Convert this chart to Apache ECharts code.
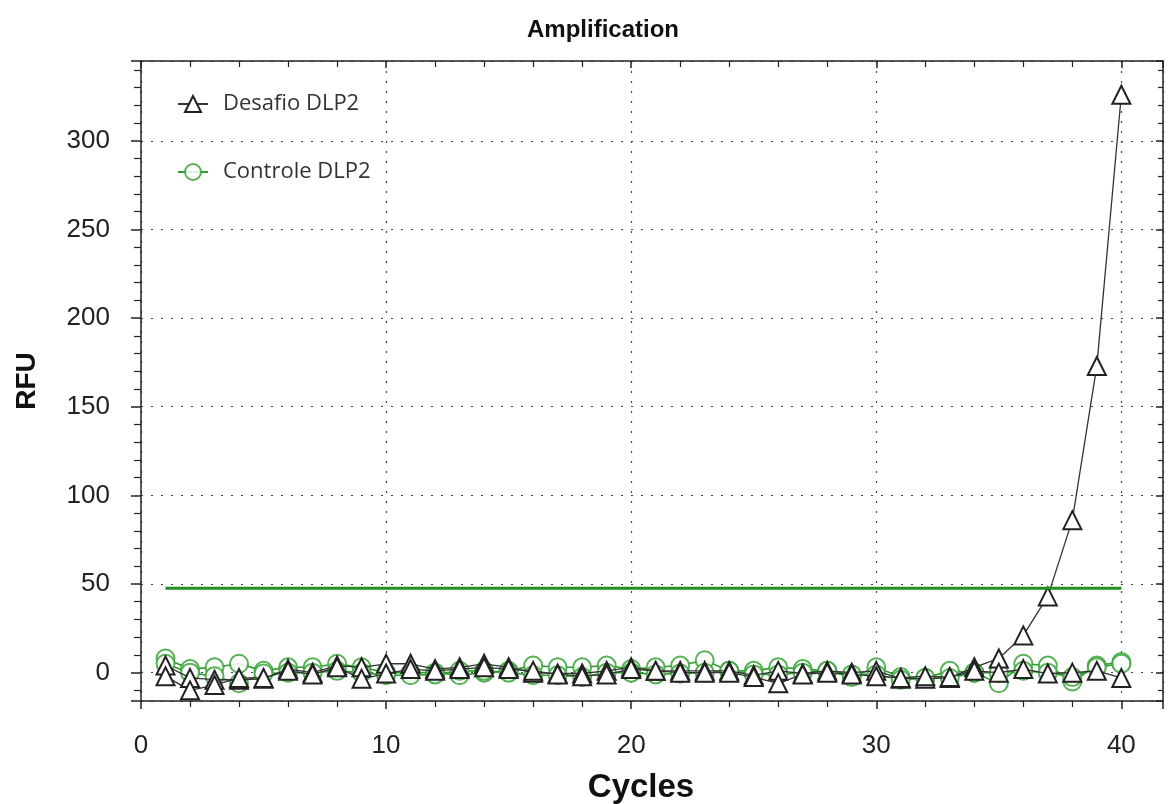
<!DOCTYPE html>
<html>
<head>
<meta charset="utf-8">
<script src="https://cdn.jsdelivr.net/npm/echarts@6/dist/echarts.min.js"></script>
<style>
  html, body { margin: 0; padding: 0; background: #fff; }
  #chart { width: 1170px; height: 804px; }
</style>
</head>
<body>
<div id="chart"></div>
<script>
// ciclos 1..40
var cycles = [];
for (var c = 1; c <= 40; c++) cycles.push(c);

// Desafio DLP2 (2 poços)
var desafioA = [4, -3, -4, -4, -3.5, 2, 0, 4, 3, 5, 5, 2, 3, 5, 3, 0, -0.5, -0.5, 1, 3,
                1, 1, 1, 1, -1.5, 1, -0.5, 1, 0, 1, -3.4, -3.4, -3, 3, 8, 21, 43, 86, 173, 326];
var desafioB = [-2, -10, -7, -3, -3, 1, -1, 3, -3.5, -0.5, 2, 1, 2, 3, 2, 1, -1, -2, -1, 2,
                1, 0, 0, 0, -2.5, -6, -1, 0, -1, -2, -3, -2, -2.5, 1, 0, 2, -0.5, 0, 1, -3];

// Controle DLP2 (2 poços)
var controleA = [8, 2, 3, 5, 1, 3, 3, 5, 3, 0, 0, 0, -1.5, 0, 1, 4, 3, 3, 4, 2,
                 3, 4, 7, 1, 1, 3, 2, 1, -2.5, 3, -2.5, -3, 1, 0, -6, 5, 4, -5, 4, 6];
var controleB = [5, 0, -2, -6, -0.5, 0, 0, 1, 0, -1.5, -1.5, -1, 1, 1, 0, -1.5, -1.5, -2.5, 0, 0,
                 -1, -0.5, 0, 1, -1, -1, 0, 1, -1, -1, -4, -3, -3, 0, 0, 1, 0, -2.5, 3, 5];

// limiar
var threshold = 47.6;
var thresholdRange = [1, 40];

var xTicks = [0, 10, 20, 30, 40];
var yTicks = [0, 50, 100, 150, 200, 250, 300];

function pairs(ys) {
    return cycles.map(function (x, i) { return [x, ys[i]]; });
}

var myChart = echarts.init(document.getElementById('chart'));

var dotted = { color: '#444', width: 1.2, type: [2, 8] };
var font = 'Liberation Sans';

function desafio(ys) {
    return {
        name: 'Desafio DLP2',
        type: 'line',
        data: pairs(ys),
        symbol: 'emptyTriangle',
        symbolSize: 18,
        z: 4,
        itemStyle: { color: '#222', borderWidth: 1.3 },
        lineStyle: { color: '#333', width: 1.3 }
    };
}
function controle(ys) {
    return {
        name: 'Controle DLP2',
        type: 'line',
        data: pairs(ys),
        symbol: 'emptyCircle',
        symbolSize: 18,
        z: 3,
        itemStyle: { color: '#3aa53a', borderWidth: 1.5, opacity: 0.85 },
        lineStyle: { color: '#2f9a2f', width: 1.6 }
    };
}

// eixo Y: sem interval fixo (min não é múltiplo de 50), splitNumber dá passo 50
var yCommon = { type: 'value', min: -16, max: 345, splitNumber: 7 };
var xCommon = { type: 'value', min: 0, max: 41.7, splitNumber: 4 };

myChart.setOption({
    backgroundColor: '#fff',
    animation: false,
    title: {
        text: 'Amplification',
        left: 598,
        top: 13,
        textAlign: 'center',
        textStyle: { fontFamily: font, fontWeight: 'bold', fontSize: 24, color: '#111' }
    },
    grid: { left: 141, right: 7, top: 61, bottom: 103, containLabel: false, outerBoundsMode: 'none' },
    legend: {
        data: ['Desafio DLP2', 'Controle DLP2'],
        orient: 'vertical',
        left: 172,
        top: 88,
        itemWidth: 30,
        itemHeight: 20,
        itemGap: 46,
        textStyle: { fontFamily: 'Open Sans', fontSize: 22, color: '#333', padding: [0, 0, 0, 10] }
    },
    xAxis: [Object.assign({}, xCommon, {
        name: 'Cycles',
        nameLocation: 'middle',
        nameGap: 70,
        nameTextStyle: { fontFamily: font, fontWeight: 'bold', fontSize: 33, color: '#111', padding: [0, 22, 0, 0] },
        axisLine: { onZero: false, lineStyle: { color: '#222', width: 1.5 } },
        axisTick: { show: true, length: 8, lineStyle: { color: '#222', width: 1.5 } },
        minorTick: { show: true, splitNumber: 5, length: 6, lineStyle: { color: '#222', width: 1.2 } },
        axisLabel: {
            margin: 32, fontSize: 26, color: '#222', fontFamily: font,
            showMaxLabel: false,
            formatter: function (v) { return xTicks.indexOf(v) >= 0 ? String(v) : ''; }
        },
        splitLine: { show: true, lineStyle: dotted }
    }), Object.assign({}, xCommon, {
        position: 'top',
        axisLine: { show: true, onZero: false, lineStyle: { color: '#222', width: 1.5 } },
        axisTick: { show: true, inside: true, length: 7, lineStyle: { color: '#222', width: 1.5 } },
        minorTick: { show: true, splitNumber: 5, length: 6, lineStyle: { color: '#222', width: 1.2 } },
        axisLabel: { show: false },
        splitLine: { show: false }
    })],
    yAxis: [Object.assign({}, yCommon, {
        name: 'RFU',
        nameLocation: 'middle',
        nameGap: 100,
        nameRotate: 90,
        nameTextStyle: { fontFamily: font, fontWeight: 'bold', fontSize: 28, color: '#111' },
        axisLine: { onZero: false, lineStyle: { color: '#222', width: 1.5 } },
        axisTick: { show: true, length: 10, lineStyle: { color: '#222', width: 1.5 } },
        minorTick: { show: true, splitNumber: 5, length: 7, lineStyle: { color: '#222', width: 1.2 } },
        axisLabel: {
            margin: 31, fontSize: 26, color: '#222', fontFamily: font,
            formatter: function (v) { return yTicks.indexOf(v) >= 0 ? String(v) : ''; }
        },
        splitLine: { show: true, lineStyle: dotted }
    }), Object.assign({}, yCommon, {
        position: 'right',
        axisLine: { show: true, onZero: false, lineStyle: { color: '#222', width: 1.5 } },
        axisTick: { show: true, inside: true, length: 7, lineStyle: { color: '#222', width: 1.5 } },
        minorTick: { show: true, splitNumber: 5, length: 5, lineStyle: { color: '#222', width: 1.2 } },
        axisLabel: { show: false },
        splitLine: { show: false }
    })],
    series: [
        controle(controleA),
        controle(controleB),
        desafio(desafioA),
        desafio(desafioB),
        {
            name: 'threshold',
            type: 'line',
            data: [[thresholdRange[0], threshold], [thresholdRange[1], threshold]],
            symbol: 'none',
            silent: true,
            z: 5,
            lineStyle: { color: '#1f8f1f', width: 3 }
        }
    ]
});
</script>
</body>
</html>
